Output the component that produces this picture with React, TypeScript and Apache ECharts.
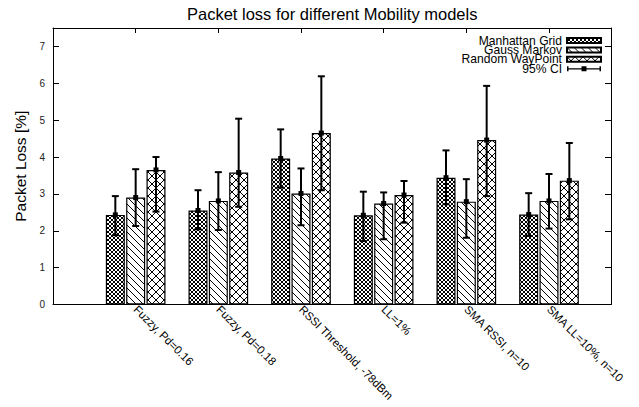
import React, { useEffect, useRef } from 'react';
import * as echarts from 'echarts';

const categories = [
  'Fuzzy, Pd=0.16',
  'Fuzzy, Pd=0.18',
  'RSSI Threshold, -78dBm',
  'LL=1%',
  'SMA RSSI, n=10',
  'SMA LL=10%, n=10',
];
const seriesNames = ['Manhattan Grid', 'Gauss Markov', 'Random WayPoint'];
const ciName = '95% CI';

const manhattanMean = [2.43, 2.55, 3.96, 2.42, 3.44, 2.44];
const manhattanLow = [1.88, 2.04, 3.17, 1.72, 2.72, 1.86];
const manhattanHigh = [2.94, 3.1, 4.75, 3.06, 4.18, 3.02];

const gaussMean = [2.9, 2.81, 3.01, 2.74, 2.79, 2.81];
const gaussLow = [2.13, 2.02, 2.15, 1.77, 1.81, 2.06];
const gaussHigh = [3.67, 3.59, 3.69, 3.04, 3.4, 3.54];

const rwpMean = [3.65, 3.58, 4.65, 2.97, 4.46, 3.36];
const rwpLow = [2.52, 2.65, 3.1, 2.22, 2.94, 2.31];
const rwpHigh = [4.0, 5.04, 6.19, 3.35, 5.93, 4.38];

const yMin = 0;
const yMax = 7.5;
const yInterval = 1;

const FONT = '"Liberation Sans", Arial, Helvetica, sans-serif';
const BAR_W = 19;
const BAR_GAP = 0.07;
const PITCH = BAR_W * (1 + BAR_GAP);

function makePattern(kind: string) {
  const c = document.createElement('canvas');
  let n = 4;
  if (kind === 'gm') n = 7;
  if (kind === 'rwp') n = 8;
  c.width = n;
  c.height = n;
  const ctx = c.getContext('2d')!;
  ctx.fillStyle = '#ffffff';
  ctx.fillRect(0, 0, n, n);
  ctx.fillStyle = '#000000';
  for (let i = 0; i < n; i++) {
    if (kind === 'mg') {
      ctx.fillRect(i, i, 1, 1);
      ctx.fillRect(n - 1 - i, i, 1, 1);
    } else if (kind === 'gm') {
      ctx.fillRect(i, i, 1, 1);
    } else {
      ctx.fillRect(i, i, 1, 1);
      ctx.fillRect(n - 1 - i, i, 1, 1);
    }
  }
  return { image: c, repeat: 'repeat' } as any;
}

const ciIcon =
  'path://M0,0h1.5v5h-1.5Z M32.5,0h1.5v5h-1.5Z M0,2h34v1.2h-34Z M14.5,0h5v5h-5Z';

export default function App() {
  const ref = useRef<HTMLDivElement>(null);
  useEffect(() => {
    if (!ref.current) return;
    const chart = echarts.init(ref.current, undefined, { renderer: 'svg' });
    const means = [manhattanMean, gaussMean, rwpMean];
    const lows = [manhattanLow, gaussLow, rwpLow];
    const highs = [manhattanHigh, gaussHigh, rwpHigh];
    const patterns = [makePattern('mg'), makePattern('gm'), makePattern('rwp')];

    const ciData: number[][] = [];
    for (let s = 0; s < 3; s++) {
      for (let c = 0; c < categories.length; c++) {
        ciData.push([c, s, means[s][c], lows[s][c], highs[s][c]]);
      }
    }

    const xLabel = (v: number) => {
      const i = Math.round(v);
      if (Math.abs(v - i) > 1e-6) return '';
      return categories[i] ?? '';
    };

    const option: any = {
      animation: false,
      backgroundColor: '#ffffff',
      textStyle: { fontFamily: FONT },
      title: {
        text: 'Packet loss for different Mobility models',
        left: 182,
        top: 0,
        textStyle: { fontSize: 16.5, fontWeight: 'normal', color: '#000', fontFamily: FONT },
      },
      legend: {
        orient: 'vertical',
        right: 32,
        top: 29.5,
        align: 'right',
        itemWidth: 34,
        itemHeight: 5,
        itemGap: -2.6,
        selectedMode: false,
        textStyle: { fontSize: 12.1, lineHeight: 9.3, color: '#000', fontFamily: FONT },
        data: [
          { name: seriesNames[0], icon: 'rect' },
          { name: seriesNames[1], icon: 'rect' },
          { name: seriesNames[2], icon: 'rect' },
          { name: ciName, icon: ciIcon, itemStyle: { color: '#000', borderWidth: 0 } },
        ],
      },
      grid: { left: 53, right: 28, top: 28, bottom: 102.5, containLabel: false },
      xAxis: [
        {
          type: 'value',
          min: -1,
          max: 5.75,
          interval: 1,
          position: 'bottom',
          axisLine: { show: true, onZero: false, lineStyle: { color: '#000', width: 1 } },
          axisTick: { show: true, inside: true, length: 5, lineStyle: { color: '#000' } },
          splitLine: { show: false },
          axisLabel: {
            rotate: -45,
            margin: 3,
            fontSize: 11.5,
            color: '#000',
            fontFamily: FONT,
            showMaxLabel: false,
            showMinLabel: false,
            formatter: xLabel,
          },
        },
        {
          type: 'value',
          min: -1,
          max: 5.75,
          interval: 1,
          position: 'top',
          axisLine: { show: true, onZero: false, lineStyle: { color: '#000', width: 1 } },
          axisTick: { show: true, inside: true, length: 5, lineStyle: { color: '#000' } },
          splitLine: { show: false },
          axisLabel: { show: false },
        },
      ],
      yAxis: [
        {
          type: 'value',
          min: yMin,
          max: yMax,
          interval: yInterval,
          position: 'left',
          name: 'Packet Loss [%]',
          nameLocation: 'middle',
          nameGap: 17,
          nameTextStyle: { fontSize: 15.5, color: '#000', fontFamily: FONT },
          axisLine: { show: true, onZero: false, lineStyle: { color: '#000', width: 1 } },
          axisTick: { show: true, inside: true, length: 6, lineStyle: { color: '#000' } },
          splitLine: { show: false },
          axisLabel: {
            margin: 8,
            fontSize: 10,
            color: '#222',
            fontFamily: FONT,
            showMaxLabel: false,
            formatter: (v: number) => (Number.isInteger(v) ? String(v) : ''),
          },
        },
        {
          type: 'value',
          min: yMin,
          max: yMax,
          interval: yInterval,
          position: 'right',
          axisLine: { show: true, onZero: false, lineStyle: { color: '#000', width: 1 } },
          axisTick: { show: true, inside: true, length: 6, lineStyle: { color: '#000' } },
          splitLine: { show: false },
          axisLabel: { show: false },
        },
      ],
      series: [
        ...seriesNames.map((name, s) => ({
          type: 'bar',
          name,
          xAxisIndex: 0,
          yAxisIndex: 0,
          barWidth: BAR_W,
          barGap: `${BAR_GAP * 100}%`,
          itemStyle: { color: patterns[s], borderColor: '#000', borderWidth: 1.2 },
          data: means[s].map((v, i) => [i, v]),
          z: 2,
        })),
        {
          type: 'custom',
          name: ciName,
          xAxisIndex: 0,
          yAxisIndex: 0,
          itemStyle: { color: '#000' },
          encode: { x: 0, y: 2 },
          z: 5,
          data: ciData,
          renderItem: (params: any, api: any) => {
            const c = api.value(0);
            const s = api.value(1);
            const top = api.coord([c, api.value(4)]);
            const bot = api.coord([c, api.value(3)]);
            const mid = api.coord([c, api.value(2)]);
            const x = top[0] + (s - 1) * PITCH;
            const st = { stroke: '#000', lineWidth: 2 };
            return {
              type: 'group',
              children: [
                { type: 'line', shape: { x1: x, y1: top[1], x2: x, y2: bot[1] }, style: st },
                { type: 'line', shape: { x1: x - 3.5, y1: top[1], x2: x + 3.5, y2: top[1] }, style: st },
                { type: 'line', shape: { x1: x - 3.5, y1: bot[1], x2: x + 3.5, y2: bot[1] }, style: st },
                { type: 'rect', shape: { x: x - 2.5, y: mid[1] - 2.5, width: 5, height: 5 }, style: { fill: '#000' } },
              ],
            };
          },
        },
      ],
    };
    chart.setOption(option);
    return () => chart.dispose();
  }, []);
  return (
    <div
      ref={ref}
      style={{ position: 'absolute', left: 0, top: 0, width: 639, height: 407, background: '#fff' }}
    />
  );
}
